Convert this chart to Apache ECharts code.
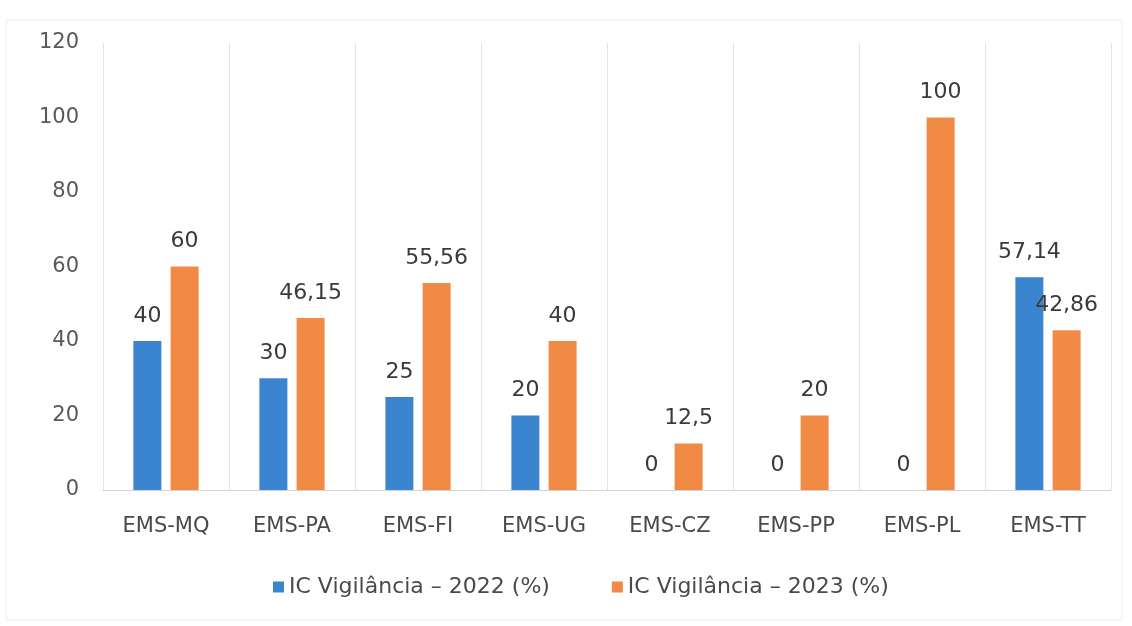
<!DOCTYPE html>
<html><head><meta charset="utf-8">
<script src="https://cdn.jsdelivr.net/npm/echarts@6/dist/echarts.min.js"></script>
<style>html,body{margin:0;padding:0;background:#fff}#c{width:1132px;height:626px}</style>
</head><body><div id="c"></div>
<script>
const categories = ['EMS-MQ','EMS-PA','EMS-FI','EMS-UG','EMS-CZ','EMS-PP','EMS-PL','EMS-TT'];
const values2022 = [40, 30, 25, 20, 0, 0, 0, 57.14];
const values2023 = [60, 46.15, 55.56, 40, 12.5, 20, 100, 42.86];
const seriesNames = ['IC Vigilância – 2022 (%)', 'IC Vigilância – 2023 (%)'];

const fmt = p => String(p.value).replace('.', ',');
const chart = echarts.init(document.getElementById('c'), null, {renderer:'canvas'});
const font = '"DejaVu Sans", "Open Sans", sans-serif';
chart.setOption({
  backgroundColor: '#fff',
  animation: false,
  textStyle: {fontFamily: font},
  grid: {left: 103, right: 21, top: 43, bottom: 136},
  legend: {
    top: 571, left: 268, itemWidth: 11, itemHeight: 11, itemGap: 62,
    icon: 'rect',
    textStyle: {fontSize: 22, color: '#4a4a4a', fontFamily: font}
  },
  xAxis: {
    type: 'category', data: categories,
    axisLine: {lineStyle: {color: '#d4d4d4'}},
    axisTick: {show: false},
    splitLine: {show: true, lineStyle: {color: '#e4e4e4'}},
    axisLabel: {fontSize: 21, color: '#4a4a4a', margin: 26}
  },
  yAxis: {
    type: 'value', min: 0, max: 120, interval: 20,
    axisLine: {show: false}, axisTick: {show: false},
    splitLine: {show: false},
    axisLabel: {fontSize: 21, color: '#595959', margin: 24}
  },
  series: [
    {name: seriesNames[0], type: 'bar', data: values2022, barWidth: 28, barGap: '33%',
     itemStyle: {color: '#3a84d0'},
     label: {show: true, position: 'top', distance: 14, fontSize: 22, color: '#3a3a3a', formatter: fmt}},
    {name: seriesNames[1], type: 'bar', data: values2023, barWidth: 28,
     itemStyle: {color: '#f08a45'},
     label: {show: true, position: 'top', distance: 14, fontSize: 22, color: '#3a3a3a', formatter: fmt}}
  ],
  graphic: [{type: 'rect', shape: {x: 6, y: 20, width: 1116, height: 600},
    style: {fill: 'none', stroke: '#ececec', lineWidth: 1}, silent: true}]
});
</script></body></html>
